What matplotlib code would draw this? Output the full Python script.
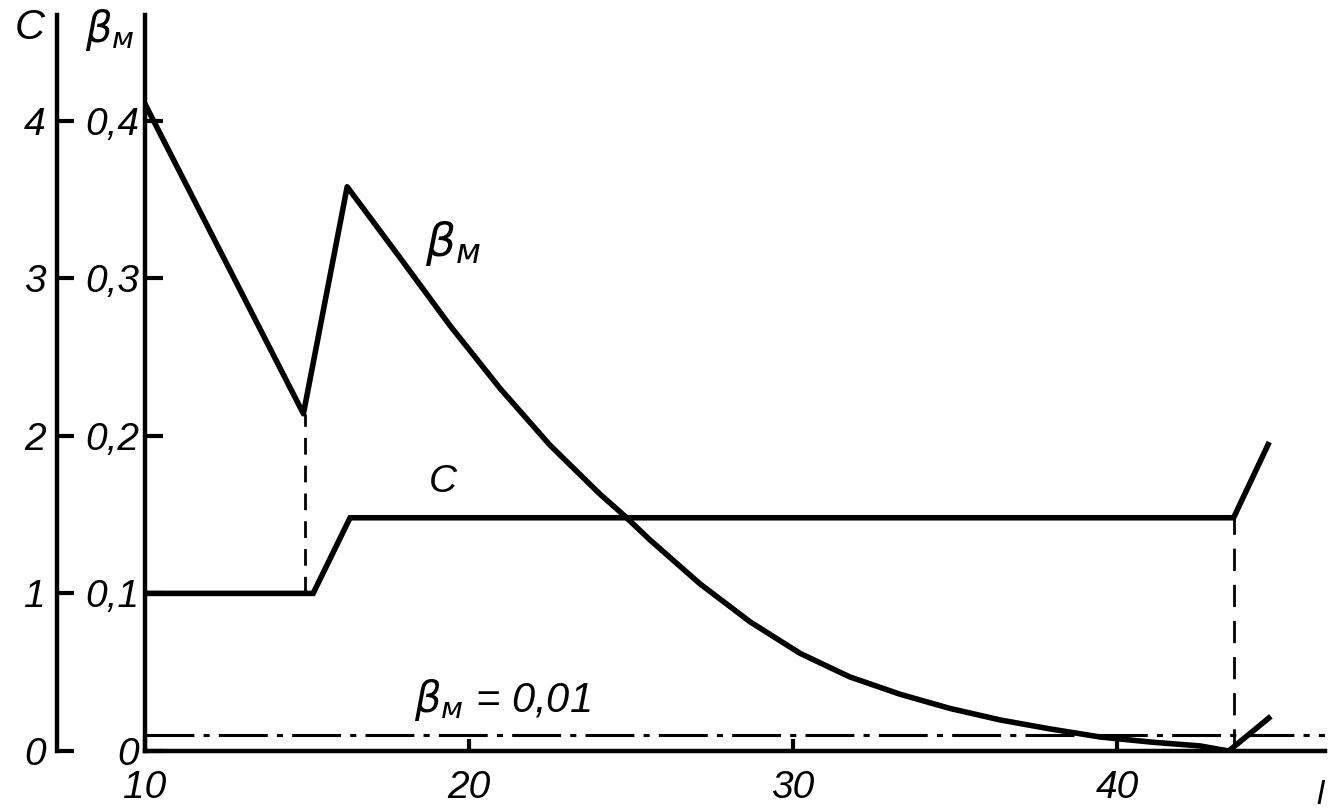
import matplotlib
matplotlib.use("Agg")
import matplotlib.pyplot as plt

# ---- data ----
beta_x = [10.0, 14.9, 16.25, 17.88, 19.42, 20.97, 22.51, 24.05, 24.82, 25.59,
          27.14, 28.68, 30.22, 31.76, 33.31, 34.85, 36.4, 37.94, 39.48, 41.03,
          42.57, 43.45, 44.75]
beta_y = [0.411, 0.214, 0.358, 0.313, 0.270, 0.230, 0.194, 0.163, 0.149, 0.134,
          0.106, 0.082, 0.062, 0.047, 0.036, 0.027, 0.0197, 0.014, 0.0089, 0.0057,
          0.0032, 0.0, 0.022]

c_x = [10.0, 15.2, 16.34, 43.6, 44.7]
c_y = [1.0, 1.0, 1.48, 1.48, 1.96]

beta_min_level = 0.01
drop1_x, drop1_top_beta, drop1_bottom_c = 14.95, 0.214, 1.0
drop2_x, drop2_top_c = 43.6, 1.48

x_ticks = [10, 20, 30, 40]
x_ticklabels = ["10", "20", "30", "40"]
beta_ticks = [0.0, 0.1, 0.2, 0.3, 0.4]
beta_ticklabels = ["0", "0,1", "0,2", "0,3", "0,4"]
c_ticks = [0, 1, 2, 3, 4]
c_ticklabels = ["0", "1", "2", "3", "4"]

C_PER_BETA = 10.0
BETA_TOP = 0.467
X_LIM = (10.0, 46.42)

W, H = 1333, 811
fig = plt.figure(figsize=(W / 100, H / 100), dpi=100)
fig.patch.set_facecolor("white")

L, B, R, T = 144.6, 751, 1325, 15
ax = fig.add_axes([L / W, (H - B) / H, (R - L) / W, (B - T) / H])
ax.set_facecolor("none")
ax.set_xlim(*X_LIM)
ax.set_ylim(0, BETA_TOP)

axC = ax.twinx()
axC.set_ylim(0, BETA_TOP * C_PER_BETA)

font = dict(family="Liberation Sans", style="italic")
lw_axis = 3.2
col = "black"

for a in (ax, axC):
    for s in ("top", "right"):
        a.spines[s].set_visible(False)
ax.spines["left"].set_linewidth(lw_axis)
ax.spines["bottom"].set_linewidth(lw_axis)
axC.spines["bottom"].set_visible(False)
axC.spines["left"].set_visible(True)
axC.spines["left"].set_position(("outward", 88 * 72 / 100))
axC.spines["left"].set_linewidth(lw_axis)
axC.yaxis.set_ticks_position("left")
axC.yaxis.set_label_position("left")

ax.set_xticks(x_ticks)
ax.set_xticklabels(x_ticklabels, fontsize=28, **font)
ax.set_yticks(beta_ticks)
ax.set_yticklabels(beta_ticklabels, fontsize=28, **font)
axC.set_yticks(c_ticks)
axC.set_yticklabels(c_ticklabels, fontsize=28, **font)

ax.tick_params(axis="x", direction="in", length=9, width=3, pad=14)
ax.tick_params(axis="y", direction="in", length=13, width=3, pad=4)
axC.tick_params(axis="y", direction="in", length=12, width=3, pad=8)

# curves
ax.plot(beta_x, beta_y, color=col, lw=4.0, solid_joinstyle="round",
        solid_capstyle="butt", zorder=5)
axC.plot(c_x, c_y, color=col, lw=4.0, solid_joinstyle="miter",
         solid_capstyle="butt", zorder=5)

# beta_M = 0.01 dash-dot line
ax.axhline(beta_min_level, color=col, lw=2.2, linestyle=(0, (16, 3, 2, 3)), zorder=3)

# dashed drop lines
ax.plot([drop1_x, drop1_x], [drop1_bottom_c / C_PER_BETA, drop1_top_beta],
        color=col, lw=2.0, linestyle=(0, (6, 4)), zorder=4)
ax.plot([drop2_x, drop2_x], [0, drop2_top_c / C_PER_BETA],
        color=col, lw=2.0, linestyle=(0, (8, 5)), zorder=4)

# labels on curves
ax.text(18.65, 0.322, r"$\beta_{м}$", fontsize=34, color=col, ha="left", va="center")
ax.text(19.2, 0.171, "C", fontsize=28, color=col, ha="center", va="center", **font)
ax.text(18.3, 0.025, r"$\beta_{м}$ = 0,01", fontsize=30, color=col,
        ha="left", va="baseline", **font)

# axis titles
fig.text(30 / W, 1 - 28 / H, "C", fontsize=30, ha="center", va="center", **font)
fig.text(110 / W, 1 - 30 / H, r"$\beta_{м}$", fontsize=30, ha="center", va="center")
fig.text(1320 / W, 1 - 795 / H, "l", fontsize=24, ha="center", va="center", **font)

fig.savefig("out.png", dpi=100, facecolor="white")
